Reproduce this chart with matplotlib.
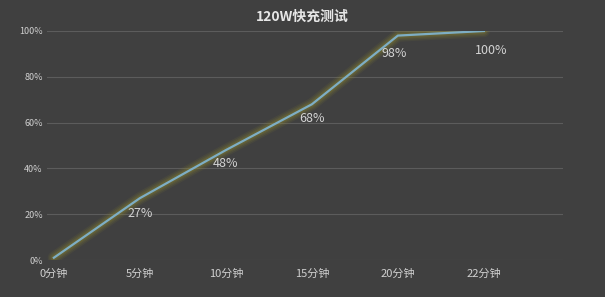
import matplotlib.pyplot as plt

plt.rcParams['font.family'] = ['Noto Sans CJK SC', 'DejaVu Sans']

# data
categories = ['0分钟', '5分钟', '10分钟', '15分钟', '20分钟', '22分钟']
charge = [1, 27, 48, 68, 98, 100]
point_labels = ['', '27%', '48%', '68%', '98%', '100%']
y_ticks = [0, 20, 40, 60, 80, 100]

bg = '#404040'
fig = plt.figure(figsize=(6.05, 2.97), dpi=100, facecolor=bg)
ax = fig.add_axes([47 / 605, 37 / 297, 516 / 605, 229 / 297])
ax.set_facecolor(bg)

x = list(range(len(categories)))
# soft olive glow under the line
for w, a in [(9, 0.10), (7, 0.14), (5, 0.18), (3.5, 0.22)]:
    ax.plot(x, charge, color='#8c8530', lw=w, alpha=a, solid_capstyle='round', zorder=2)
ax.plot(x, charge, color='#7eaec4', lw=1.6, zorder=3)

offsets = [0, -11, -10, -10, -13, -14]
shifts = [0, 0, 0, 0, -0.04, 0.09]
for i, (v, lab) in enumerate(zip(charge, point_labels)):
    if not lab:
        continue
    ax.annotate(lab, (i + shifts[i], v), xytext=(0, offsets[i]), textcoords='offset points',
                ha='center', va='center', fontsize=9, color='#d4d4d4')

ax.set_xlim(-0.08, 5.92)
ax.set_ylim(0, 100)
ax.set_yticks(y_ticks)
ax.set_yticklabels([f'{t}%' for t in y_ticks], fontsize=6.5, color='#d0d0d0')
ax.set_xticks(x)
ax.set_xticklabels(categories, fontsize=8, color='#d0d0d0')
ax.tick_params(axis='x', length=0, pad=6)
ax.tick_params(axis='y', length=0, pad=3)
ax.grid(axis='y', color='#5c5c5c', lw=0.8)
ax.set_axisbelow(True)
for s in ax.spines.values():
    s.set_visible(False)

fig.text(0.5, 1 - 17 / 297, '120W快充测试', ha='center', va='center',
         fontsize=10, fontweight='bold', color='#e6e6e6')

fig.savefig('out.png', dpi=100, facecolor=bg)
